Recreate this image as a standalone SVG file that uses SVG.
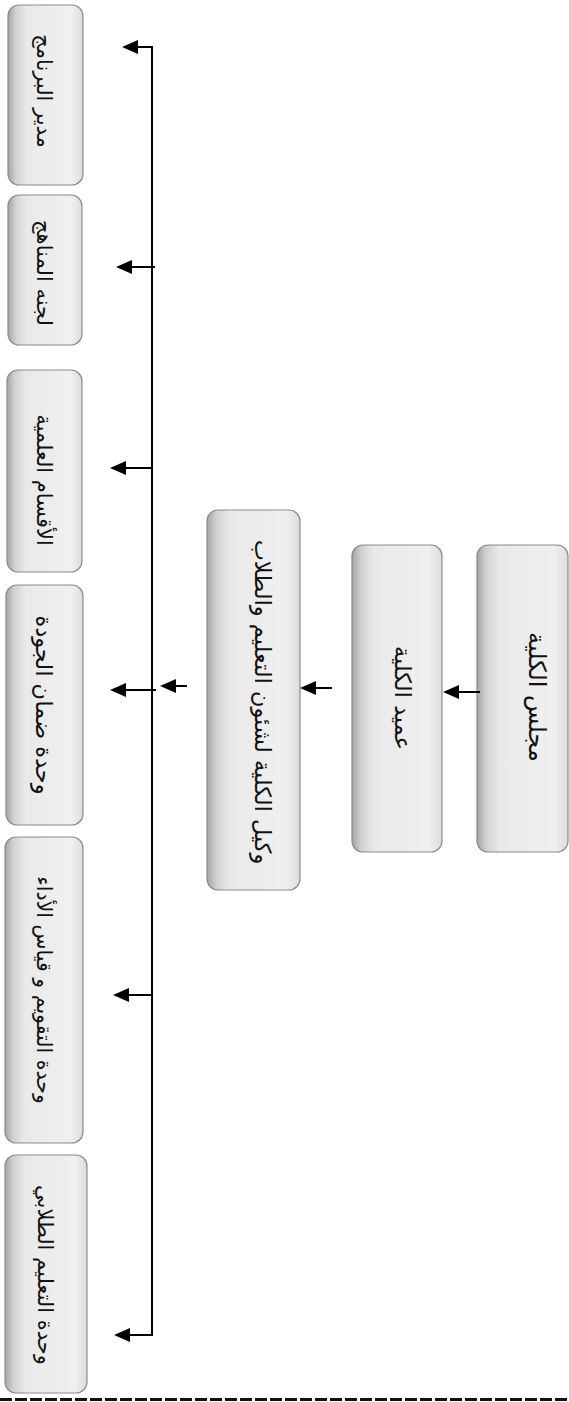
<svg xmlns="http://www.w3.org/2000/svg" width="569" height="1402" viewBox="0 0 569 1402">
<style>
.box{fill:url(#g);stroke:#8c8c8c;stroke-width:1.2}
.t{font-family:"DejaVu Sans",sans-serif;font-size:21px;fill:#111;text-anchor:middle;dominant-baseline:central}
.tm{font-size:22.5px}
.c{fill:none;stroke:#000;stroke-width:2}
.a{fill:none;stroke:#000;stroke-width:2;marker-end:url(#ah)}
</style>
<defs>
<linearGradient id="g" x1="0" y1="0" x2="1" y2="0">
<stop offset="0" stop-color="#a4a4a4"/>
<stop offset="0.1" stop-color="#d0d0d0"/>
<stop offset="0.25" stop-color="#e9e9e9"/>
<stop offset="0.85" stop-color="#f0f0f0"/>
<stop offset="1" stop-color="#dcdcdc"/>
</linearGradient>
<marker id="ah" viewBox="0 0 16 14" refX="12" refY="7" markerWidth="16" markerHeight="14" markerUnits="userSpaceOnUse" orient="auto">
<path d="M0,0 L16,7 L0,14 z" fill="#000"/>
</marker>
</defs>
<rect width="569" height="1402" fill="#fff"/>
<g id="n-program-director"><rect class="box" x="8" y="5" width="75" height="180" rx="11"/><text class="t" transform="translate(44,91) rotate(90)">مدير البرنامج</text></g>
<g id="n-curriculum"><rect class="box" x="8" y="195" width="74" height="150" rx="11"/><text class="t" transform="translate(44,273) rotate(90)">لجنه المناهج</text></g>
<g id="n-departments"><rect class="box" x="7" y="370" width="75" height="202" rx="11"/><text class="t" transform="translate(44,480) rotate(90)">الأقسام العلمية</text></g>
<g id="n-quality"><rect class="box" x="6" y="585" width="77" height="240" rx="11"/><text class="t" style="font-size:22.5px" transform="translate(44,705) rotate(90)">وحدة ضمان الجودة</text></g>
<g id="n-assessment"><rect class="box" x="5" y="837" width="78" height="306" rx="11"/><text class="t" style="font-size:20.5px" transform="translate(44,990) rotate(90)">وحدة التقويم و قياس الأداء</text></g>
<g id="n-learning"><rect class="box" x="5" y="1155" width="82" height="238" rx="11"/><text class="t" transform="translate(45,1275) rotate(90)">وحدة التعليم الطلابي</text></g>
<g id="n-vice-dean"><rect class="box" x="207" y="510" width="93" height="380" rx="11"/><text class="t tm" transform="translate(263,702) rotate(90)">وكيل الكلية لشئون التعليم والطلاب</text></g>
<g id="n-dean"><rect class="box" x="352" y="545" width="90" height="307" rx="11"/><text class="t tm" transform="translate(403,698) rotate(90)">عميد الكلية</text></g>
<g id="n-council"><rect class="box" x="477" y="545" width="91" height="307" rx="11"/><text class="t tm" style="font-size:24px" transform="translate(537,697) rotate(90)">مجلس الكلية</text></g>
<g id="connectors">
<path class="c" d="M152,47 V1335"/>
<path class="a" d="M153,47 H126"/>
<path class="a" d="M155,267 H120"/>
<path class="a" d="M153,468 H114"/>
<path class="a" d="M156,690 H114"/>
<path class="a" d="M153,995 H117"/>
<path class="a" d="M153,1335 H118"/>
<path class="a" d="M187,686 H164"/>
<path class="a" d="M480,692 H447"/>
<path class="a" d="M332,688 H304"/>
</g>
<line x1="0" y1="1399.5" x2="569" y2="1399.5" stroke="#111" stroke-width="3" stroke-dasharray="12 3"/>
</svg>
